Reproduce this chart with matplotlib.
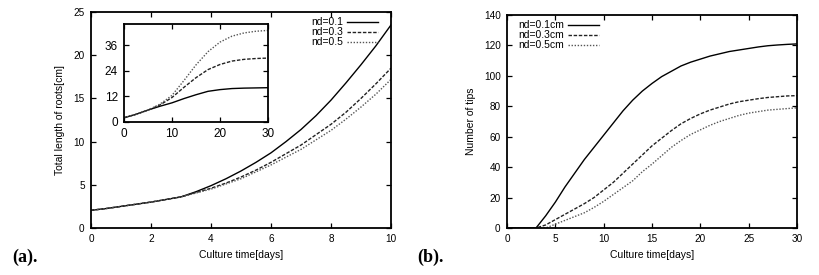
import numpy as np
import matplotlib
matplotlib.use('Agg')
import matplotlib.pyplot as plt

plt.rcParams['font.family'] = ['Liberation Sans', 'DejaVu Sans']

# (a) total length of roots, days 0..10 every 0.5 day
days_a = [0, 0.5, 1, 1.5, 2, 2.5, 3, 3.5, 4, 4.5, 5, 5.5, 6, 6.5, 7, 7.5, 8, 8.5, 9, 9.5, 10]
len_01 = [2.05, 2.25, 2.5, 2.75, 3.0, 3.3, 3.6, 4.2, 4.9, 5.7, 6.6, 7.6, 8.7, 10.0, 11.4, 13.0, 14.8, 16.8, 18.9, 21.1, 23.5]
len_03 = [2.05, 2.25, 2.5, 2.75, 3.0, 3.3, 3.6, 4.1, 4.6, 5.2, 5.9, 6.7, 7.6, 8.6, 9.6, 10.8, 12.0, 13.4, 15.0, 16.7, 18.5]
len_05 = [2.05, 2.25, 2.5, 2.75, 3.0, 3.3, 3.6, 4.05, 4.5, 5.1, 5.7, 6.5, 7.3, 8.2, 9.1, 10.2, 11.3, 12.6, 14.0, 15.5, 17.2]

# inset: days 0..30
days_in = [0, 2.5, 5, 7.5, 10, 12.5, 15, 17.5, 20, 22.5, 25, 27.5, 30]
in_01 = [2.0, 3.6, 5.6, 7.4, 9.0, 11.0, 12.8, 14.4, 15.2, 15.7, 15.9, 16.0, 16.1]
in_03 = [2.0, 3.6, 5.6, 8.0, 11.5, 16.3, 20.8, 24.6, 27.0, 28.6, 29.4, 29.8, 30.0]
in_05 = [2.0, 3.6, 5.6, 8.4, 12.5, 19.5, 26.8, 33.0, 37.5, 40.3, 41.8, 42.6, 43.0]

# (b) number of tips, days 0..30
days_b = list(range(31))
tips_01 = [0, 0, 0, 0, 8, 17, 27, 36, 45, 53, 61, 69, 77, 84, 90, 95, 99.5, 103, 106.5, 109,
           111, 113, 114.5, 116, 117, 118, 119, 119.8, 120.3, 120.7, 121]
tips_03 = [0, 0, 0, 0, 2, 5.5, 9, 12.5, 16, 20, 25, 30, 36, 42, 48, 54, 59, 64, 68.5, 72,
           75, 77.5, 79.5, 81.5, 83, 84, 85, 85.8, 86.3, 86.8, 87]
tips_05 = [0, 0, 0, 0, 0, 2.5, 5, 7.5, 10, 13.5, 17.5, 22, 26.5, 31, 37, 42, 47.5, 53, 57.5, 61.5,
           64.5, 67.5, 70, 72, 74, 75.5, 76.5, 77.5, 78, 78.5, 79]

labels_a = ['nd=0.1', 'nd=0.3', 'nd=0.5']
labels_b = ['nd=0.1cm', 'nd=0.3cm', 'nd=0.5cm']

styles = [dict(color='black', lw=1.0, ls='-'),
          dict(color='#222222', lw=1.0, ls=(0, (2.5, 1.2))),
          dict(color='#555555', lw=1.0, ls=(0, (1, 1.2)))]

FS = 7.5


def gnuplot_axes(ax, fs=7.2):
    for s in ax.spines.values():
        s.set_linewidth(1.3)
    ax.tick_params(direction='in', top=True, right=True, length=3.5, width=0.9,
                   labelsize=fs, pad=4.5)


fig = plt.figure(figsize=(8.2, 2.75), dpi=100)

# 左のグラフ
ax1 = fig.add_axes([91/820, 47/275, 300/820, 216/275])
for y, st, lb in zip([len_01, len_03, len_05], styles, labels_a):
    ax1.plot(days_a, y, label=lb, **st)
ax1.set_xlim(0, 10)
ax1.set_ylim(0, 25)
ax1.set_xticks(range(0, 11, 2))
ax1.set_yticks(range(0, 26, 5))
gnuplot_axes(ax1)
ax1.set_xlabel('Culture time[days]', fontsize=FS, labelpad=4)
ax1.set_ylabel('Total length of roots[cm]', fontsize=FS, labelpad=6)
ax1.legend(loc='upper right', frameon=False, markerfirst=False, fontsize=FS,
           handlelength=3.0, handletextpad=0.4, labelspacing=0.0,
           borderaxespad=0.1, bbox_to_anchor=(0.975, 1.0))

# 挿入図
ax_in = fig.add_axes([124/820, (275-122)/275, 144/820, 98/275])
for y, st in zip([in_01, in_03, in_05], styles):
    ax_in.plot(days_in, y, **st)
ax_in.set_xlim(0, 30)
ax_in.set_ylim(0, 46)
ax_in.set_xticks([0, 10, 20, 30])
ax_in.set_yticks([0, 12, 24, 36])
gnuplot_axes(ax_in, fs=8.5)

# 右のグラフ
ax2 = fig.add_axes([507/820, 47/275, 290/820, 213/275])
for y, st, lb in zip([tips_01, tips_03, tips_05], styles, labels_b):
    ax2.plot(days_b, y, label=lb, **st)
ax2.set_xlim(0, 30)
ax2.set_ylim(0, 140)
ax2.set_xticks(range(0, 31, 5))
ax2.set_yticks(range(0, 141, 20))
gnuplot_axes(ax2)
ax2.set_xlabel('Culture time[days]', fontsize=FS, labelpad=4)
ax2.set_ylabel('Number of tips', fontsize=FS, labelpad=6)
ax2.legend(loc='upper left', frameon=False, markerfirst=False, fontsize=FS,
           handlelength=3.0, handletextpad=0.4, labelspacing=0.0,
           borderaxespad=0.1, bbox_to_anchor=(0.02, 1.0))

fig.text(12/820, 1 - 257/275, '(a).', fontsize=13, fontweight='bold',
         family='Liberation Serif', va='center')
fig.text(417/820, 1 - 257/275, '(b).', fontsize=13, fontweight='bold',
         family='Liberation Serif', va='center')

fig.savefig('out.png', dpi=100)
